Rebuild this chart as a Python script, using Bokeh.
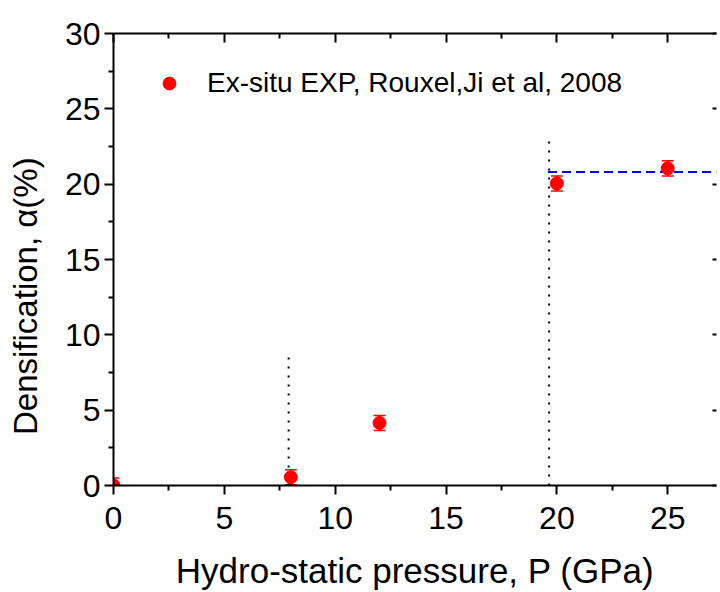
from bokeh.plotting import figure
from bokeh.models import (Range1d, LinearAxis, FixedTicker, Whisker, TeeHead,
                          ColumnDataSource, Legend, LegendItem,
                          CustomLabelingPolicy)
from bokeh.embed import file_html
from bokeh.resources import INLINE

# ---- data ----
pressure = [0, 8, 12, 20, 25]
densification = [0.0, 0.55, 4.15, 20.05, 21.05]
error = [0.5, 0.5, 0.5, 0.5, 0.5]

x_ticks = [0, 5, 10, 15, 20, 25]
x_minor = [2.5, 7.5, 12.5, 17.5, 22.5, 27.5]
y_ticks = [0, 5, 10, 15, 20, 25, 30]
y_minor = [2.5, 7.5, 12.5, 17.5, 22.5, 27.5]

onset_x = [7.9, 19.65]
onset_bottom = [0, 0]
onset_top = [8.8, 23.0]
plateau_x = [19.6, 27.2]
plateau_y = [20.8, 20.8]

legend_label = "Ex-situ EXP, Rouxel,Ji et al, 2008"
x_title = "Hydro-static pressure, P (GPa)"
y_title = "Densification, \u03b1(%)"

FONT = "Liberation Sans"

src = ColumnDataSource(data=dict(
    x=pressure, y=densification,
    upper=[d + e for d, e in zip(densification, error)],
    lower=[d - e for d, e in zip(densification, error)],
))

p = figure(width=720, height=592, x_range=Range1d(0, 27.2), y_range=Range1d(0, 30),
           output_backend="svg", toolbar_location=None,
           x_axis_type=None, y_axis_type=None,
           min_border_left=113, min_border_right=0, min_border_top=33, min_border_bottom=104)
p.outline_line_color = None
p.background_fill_color = "white"
p.border_fill_color = "white"

xt = FixedTicker(ticks=x_ticks, minor_ticks=x_minor)
yt = FixedTicker(ticks=y_ticks, minor_ticks=y_minor)


def style(ax, mo, mi, no, ni, labels=True, line=True):
    ax.major_tick_out = mo
    ax.major_tick_in = mi
    ax.minor_tick_out = no
    ax.minor_tick_in = ni
    ax.major_tick_line_width = 2
    ax.minor_tick_line_width = 2
    ax.major_tick_line_color = "black"
    ax.minor_tick_line_color = "black"
    ax.axis_line_width = 2
    ax.axis_line_color = "black" if line else None
    ax.major_label_text_font = FONT
    ax.major_label_text_color = "black"
    if labels:
        ax.major_label_text_font_size = "32px"
    else:
        ax.major_label_text_font_size = "1px"
        ax.major_label_standoff = 0
        ax.major_label_policy = CustomLabelingPolicy(code="return new Set()")


bottom = LinearAxis(ticker=xt, axis_label=x_title)
style(bottom, 9, 0, 5, 0)
bottom.major_label_standoff = 12
bottom.axis_label_text_font = FONT
bottom.axis_label_text_font_size = "35px"
bottom.axis_label_text_font_style = "normal"
bottom.axis_label_text_color = "black"
bottom.axis_label_standoff = 19
p.add_layout(bottom, "below")

# trailing no-break spaces nudge the centred title down, as in the original
left = LinearAxis(ticker=yt, axis_label=y_title + "\u00a0" * 8)
style(left, 9, 0, 5, 0)
left.major_label_standoff = 4
left.axis_label_text_font = FONT
left.axis_label_text_font_size = "33px"
left.axis_label_text_font_style = "normal"
left.axis_label_text_color = "black"
left.axis_label_standoff = 18
p.add_layout(left, "left")

top = LinearAxis(ticker=xt)
style(top, 0, 9, 0, 5, labels=False)
p.add_layout(top, "above")

right = LinearAxis(ticker=yt)
style(right, 0, 4, 0, 0, labels=False, line=False)
p.add_layout(right, "right")

# guide lines
p.segment(x0=onset_x, y0=onset_bottom, x1=onset_x, y1=onset_top,
          line_color="black", line_width=2, line_dash="2 7")
p.line(plateau_x, plateau_y, line_color="blue", line_width=2, line_dash="9 5")

# error bars
p.add_layout(Whisker(base="x", upper="upper", lower="lower", source=src,
                     line_color="red", line_width=1.5,
                     upper_head=TeeHead(size=12, line_color="red", line_width=1.5),
                     lower_head=TeeHead(size=12, line_color="red", line_width=1.5)))

r = p.scatter("x", "y", source=src, size=13, marker="circle",
              fill_color="red", line_color="red")

legend = Legend(items=[LegendItem(label=legend_label, renderers=[r])],
                location=(40, 385), margin=0, padding=0,
                glyph_width=32, glyph_height=34, label_height=34,
                label_standoff=22, label_text_font=FONT,
                label_text_font_size="28px", label_text_color="black",
                background_fill_alpha=0, border_line_color=None)
p.add_layout(legend)

open("out.html", "w").write(file_html(p, INLINE))
